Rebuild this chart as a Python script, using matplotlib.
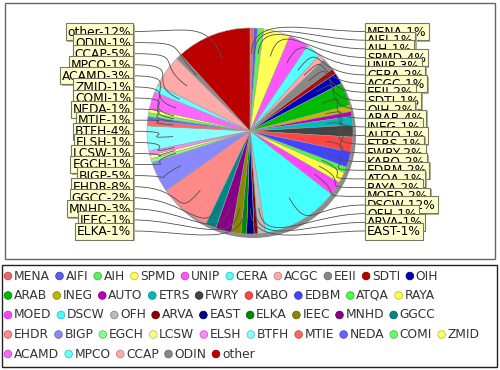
import matplotlib
matplotlib.use('Agg')
import matplotlib.pyplot as plt
from matplotlib.patches import Rectangle, Circle, PathPatch
from matplotlib.path import Path
import numpy as np

names = ['MENA', 'AIFI', 'AIH', 'SPMD', 'UNIP', 'CERA', 'ACGC', 'EEII', 'SDTI', 'OIH',
         'ARAB', 'INEG', 'AUTO', 'ETRS', 'FWRY', 'KABO', 'EDBM', 'ATQA', 'RAYA',
         'MOED', 'DSCW', 'OFH', 'ARVA', 'EAST', 'ELKA', 'IEEC', 'MNHD', 'GGCC',
         'EHDR', 'BIGP', 'EGCH', 'LCSW', 'ELSH', 'BTFH', 'MTIE', 'NEDA', 'COMI', 'ZMID',
         'ACAMD', 'MPCO', 'CCAP', 'ODIN', 'other']
values = [0.6, 0.6, 1.0, 4.3, 3.2, 2.4, 1.0, 2.0, 0.9, 1.8,
          3.7, 1.0, 0.8, 1.4, 1.9, 2.4, 2.5, 0.9, 1.8,
          2.2, 12.4, 1.2, 0.6, 1.2, 0.9, 1.5, 2.6, 1.7,
          8.3, 5.0, 0.6, 0.6, 0.7, 4.0, 0.9, 0.6, 0.6, 0.6,
          2.8, 1.2, 5.2, 0.9, 12.0]
colors = ['#f06666', '#5c5cf0', '#5cf05c', '#ffff55', '#ff55ff', '#55ffff', '#ffaaaa', '#888888', '#bb0000', '#0000bb',
          '#00bb00', '#bbbb00', '#bb00bb', '#00bbbb', '#444444', '#ff4444', '#4444ff', '#44ff44', '#ffff44',
          '#ff44ff', '#44ffff', '#bbbbbb', '#880000', '#000088', '#008800', '#888800', '#880088', '#008888',
          '#ff8888', '#8888ff', '#88ff88', '#ffff88', '#ff88ff', '#88ffff', '#ff6666', '#6666ff', '#66ff66', '#ffff66',
          '#ff66ff', '#66ffff', '#ffaaaa', '#888888', '#bb0000']
legend_row_sizes = [10, 9, 9, 10, 5]
n_right = 24

W, H = 500, 370
fig = plt.figure(figsize=(W / 100, H / 100), dpi=100)
ax = fig.add_axes([0, 0, 1, 1])
renderer = fig.canvas.get_renderer()

cx, cy, R = 250, 131, 103

# panel borders
ax.add_patch(Rectangle((5, 3), 490, 256, fc='white', ec='#666666', lw=1, zorder=0))
ax.add_patch(Rectangle((2, 265), 495, 102, fc='white', ec='#222222', lw=1, zorder=0))

# shadow
ax.add_patch(Circle((cx + 3, cy + 4), R, fc='#8c8c8c', ec='none', zorder=1))

wedges, _ = ax.pie(values, colors=colors, startangle=-90, counterclock=True,
                   radius=R, center=(cx, cy),
                   wedgeprops=dict(edgecolor='#a0a0a0', linewidth=0.4))
for w in wedges:
    w.set_zorder(2)

ax.set_xlim(0, W)
ax.set_ylim(H, 0)
ax.set_aspect('auto')
ax.axis('off')

total = float(np.sum(values))
pcts = [int(np.floor(v / total * 100 + 0.5)) for v in values]

# label positions
top_y, bot_y = 31.5, 231.0
n_left = len(names) - n_right
label_pos = {}
for i in range(n_right):
    label_pos[i] = ('right', top_y + i * (bot_y - top_y) / (n_right - 1), i)
for j in range(n_left):
    idx = len(names) - 1 - j
    label_pos[idx] = ('left', top_y + j * (bot_y - top_y) / (n_left - 1), j)

lab_fs = 8.8
pad = 2.0
box_h = 17.0
for i, w in enumerate(wedges):
    side, y, order = label_pos[i]
    a = np.deg2rad((w.theta1 + w.theta2) / 2)
    ux, uy = np.cos(a), np.sin(a)
    p3 = (cx + 0.75 * R * ux, cy + 0.75 * R * uy)
    p2 = (cx + 1.15 * R * ux, cy + 1.15 * R * uy)
    if side == 'right':
        p0 = (365, y)
        p1 = (310, y)
    else:
        p0 = (133, y)
        p1 = (188, y)
    path = Path([p0, p1, p2, p3], [Path.MOVETO, Path.CURVE4, Path.CURVE4, Path.CURVE4])
    ax.add_patch(PathPatch(path, fc='none', ec='#505050', lw=0.6, zorder=3))

    txt = f"{names[i]}-{pcts[i]}%"
    z = 10 + 2 * order
    if side == 'right':
        t = ax.text(365 + pad, y + 0.5, txt, ha='left', va='center', fontsize=lab_fs,
                    color='black', zorder=z + 1)
    else:
        t = ax.text(133 - pad, y + 0.5, txt, ha='right', va='center', fontsize=lab_fs,
                    color='black', zorder=z + 1)
    tw = t.get_window_extent(renderer).width
    bw = tw + 2 * pad
    bx = 365 if side == 'right' else 133 - bw
    ax.add_patch(Rectangle((bx + 1.5, y - box_h / 2 + 1.5), bw, box_h, fc='#b0b0a0',
                           ec='none', zorder=z - 0.5))
    ax.add_patch(Rectangle((bx, y - box_h / 2), bw, box_h, fc='#ffffcc',
                           ec='#777766', lw=0.8, zorder=z))

# legend (flow layout)
row_y0, row_dy = 276, 19.5
k = 0
for r, n in enumerate(legend_row_sizes):
    y = row_y0 + r * row_dy
    x = 8
    for _ in range(n):
        c = np.array(matplotlib.colors.to_rgb(colors[k]))
        ax.add_patch(Circle((x, y), 3.8, fc=c, ec=c * 0.75, lw=0.6, zorder=5))
        t = ax.text(x + 6, y, names[k], ha='left', va='center', fontsize=8.8,
                    color='#333333', zorder=5)
        wpx = t.get_window_extent(renderer).width
        x = x + 6 + wpx + 9.5
        k += 1

fig.savefig('out.png', dpi=100)
